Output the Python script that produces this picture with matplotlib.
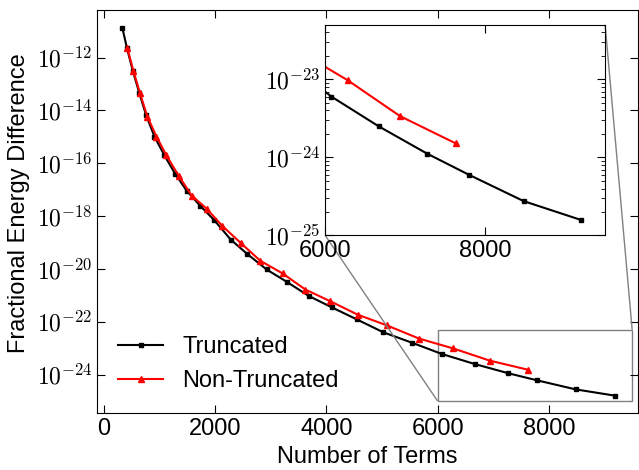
import numpy as np
import matplotlib
matplotlib.use("Agg")
import matplotlib.pyplot as plt
from mpl_toolkits.axes_grid1.inset_locator import mark_inset
from matplotlib.ticker import LogLocator, NullLocator, FuncFormatter

plt.rcParams['font.family'] = ['Liberation Sans', 'DejaVu Sans']
plt.rcParams['mathtext.fontset'] = 'cm'
plt.rcParams['xtick.direction'] = 'in'
plt.rcParams['ytick.direction'] = 'in'

# data (exponents of the fractional energy difference)
trunc_terms = [329, 413, 516, 634, 755, 907, 1078, 1276, 1486, 1725, 1980, 2279,
               2579, 2924, 3288, 3680, 4092, 4546, 5024, 5547, 6077, 6667, 7272,
               7793, 8482, 9195]
trunc_exp = [-10.875, -11.65, -12.49, -13.34, -14.17, -14.99, -15.67, -16.39,
             -17.04, -17.60, -18.15, -18.89, -19.44, -20.02, -20.49, -21.02,
             -21.45, -21.91, -22.40, -22.80, -23.22, -23.60, -23.95, -24.22,
             -24.56, -24.80]

nontrunc_terms = [419, 527, 647, 778, 943, 1119, 1344, 1576, 1845, 2129, 2465,
                  2810, 3211, 3621, 4066, 4561, 5091, 5671, 6280, 6935, 7632]
nontrunc_exp = [-11.64, -12.50, -13.35, -14.23, -14.99, -15.69, -16.48, -17.22,
                -17.72, -18.375, -19.03, -19.69, -20.17, -20.78, -21.22, -21.73,
                -22.14, -22.64, -23.01, -23.47, -23.82]

trunc_vals = 10.0 ** np.array(trunc_exp)
nontrunc_vals = 10.0 ** np.array(nontrunc_exp)

fs = 17
pow_fmt = FuncFormatter(lambda v, p: r'$10^{%d}$' % int(round(np.log10(v))))

fig = plt.figure(figsize=(6.39, 4.70), dpi=100)
ax = fig.add_axes([0.152, 0.121, 0.846, 0.858])

ax.semilogy(trunc_terms, trunc_vals, 'k-s', lw=1.5, ms=3, label='Truncated')
ax.semilogy(nontrunc_terms, nontrunc_vals, 'r-^', lw=1.5, ms=4, label='Non-Truncated')
ax.set_xlim(-125, 9600)
ax.set_ylim(10**-25.46, 10**-10.19)
ax.set_xticks([0, 2000, 4000, 6000, 8000])
ax.yaxis.set_major_locator(LogLocator(base=100))
ax.yaxis.set_minor_locator(NullLocator())
ax.yaxis.set_major_formatter(pow_fmt)
ax.tick_params(which='both', top=True, right=True, labelsize=fs, length=6)
ax.set_xlabel('Number of Terms', fontsize=fs)
ax.set_ylabel('Fractional Energy Difference', fontsize=fs)
ax.yaxis.set_label_coords(-0.125, 0.52)
ax.legend(loc='lower left', frameon=False, fontsize=fs, handlelength=1.9,
          bbox_to_anchor=(0.0, 0.0))

# zoomed inset
axins = fig.add_axes([0.509, 0.499, 0.438, 0.448])
axins.semilogy(trunc_terms, trunc_vals, 'k-s', lw=1.5, ms=3)
axins.semilogy(nontrunc_terms, nontrunc_vals, 'r-^', lw=1.5, ms=4)
axins.set_xlim(6000, 9500)
axins.set_ylim(1e-25, 5e-23)
axins.set_xticks([6000, 8000])
axins.yaxis.set_major_formatter(pow_fmt)
axins.tick_params(which='both', top=True, right=True, labelsize=fs)
axins.tick_params(which='major', length=6)
axins.tick_params(which='minor', length=3)
mark_inset(ax, axins, loc1=1, loc2=3, fc='none', ec='0.5')

fig.savefig('out.png', dpi=100)
